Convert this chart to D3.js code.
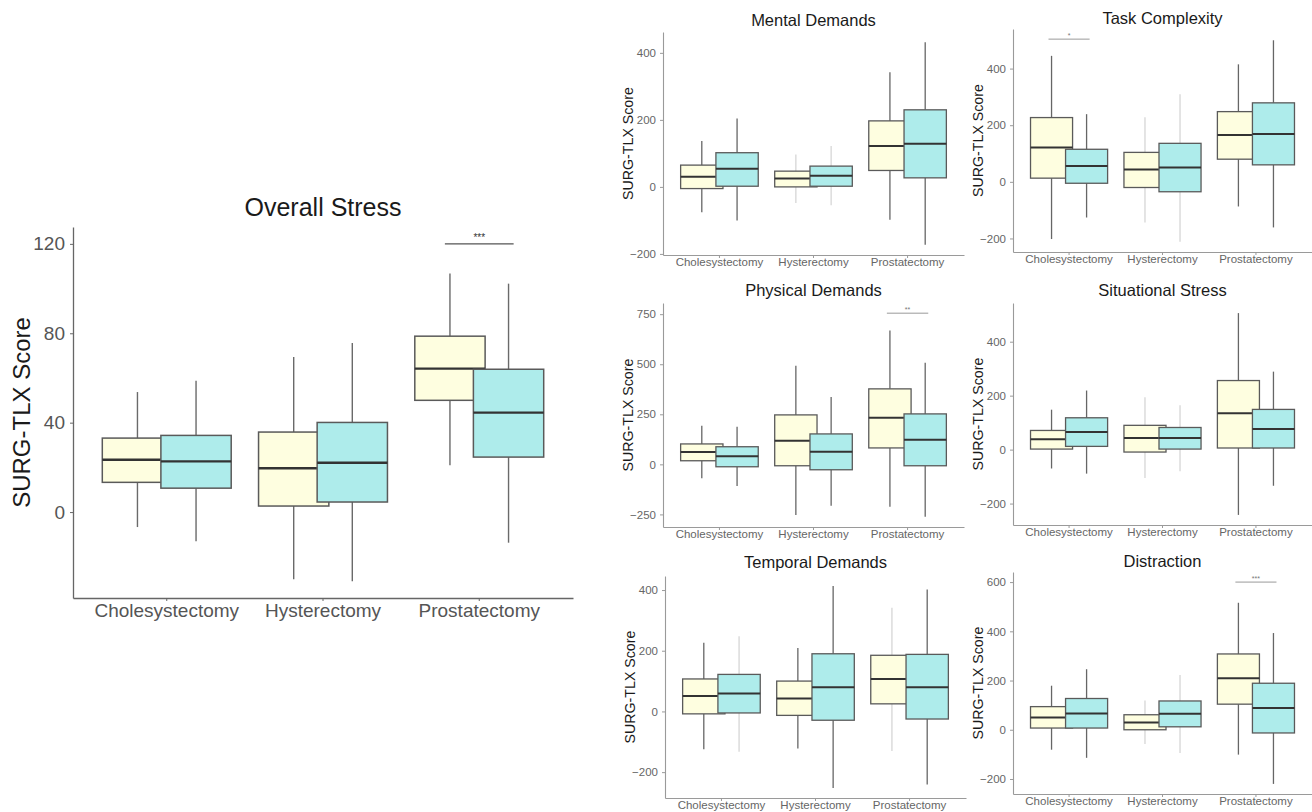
<!DOCTYPE html>
<html><head><meta charset="utf-8">
<script src="https://cdn.jsdelivr.net/npm/d3@7"></script>
<style>
html,body{margin:0;padding:0;background:#fff;overflow:hidden;}
svg{display:block;font-family:"Liberation Sans",Arial,Helvetica,sans-serif;}
</style>
</head><body>
<svg id="chart" width="1312" height="812"></svg>
<script>
// ---------------- DATA ----------------
const categories = ["Cholesystectomy", "Hysterectomy", "Prostatectomy"];
const groups = ["group1", "group2"];
const yLabel = "SURG-TLX Score";

// box stats per category: [lower whisker, Q1, median, Q3, upper whisker]
const overallTitle = "Overall Stress";
const overallG1 = [[-6.7, 13.3, 23.4, 33.1, 53.7], [-30.1, 2.7, 19.6, 35.8, 69.4], [20.9, 50, 64.2, 78.7, 106.7]];
const overallG2 = [[-13, 10.7, 22.7, 34.3, 58.7], [-30.9, 4.5, 22.1, 40.1, 75.7], [-13.7, 24.6, 44.5, 63.9, 102.2]];
const overallTicks = [0, 40, 80, 120];
const overallSig = {category: "Prostatectomy", value: 120, label: "***"};

const mentalTitle = "Mental Demands";
const mentalG1 = [[-76, -5, 30, 65, 137], [-48, 0, 25, 47, 97], [-98, 49, 122, 197, 342]];
const mentalG2 = [[-100, 2, 54, 102, 204], [-55, 2, 33, 62, 122], [-173, 27, 129, 230, 432]];
const mentalTicks = [-200, 0, 200, 400];

const taskTitle = "Task Complexity";
const taskG1 = [[-202, 13, 121, 227, 445], [-144, -20, 44, 104, 228], [-87, 80, 165, 248, 415]];
const taskG2 = [[-126, -5, 56, 115, 239], [-212, -35, 51, 136, 309], [-161, 60, 169, 279, 500]];
const taskTicks = [-200, 0, 200, 400];
const taskSig = {category: "Cholesystectomy", value: 504, label: "*"};

const physicalTitle = "Physical Demands";
const physicalG1 = [[-70, 18, 62, 102, 193], [-253, -7, 118, 247, 493], [-212, 82, 233, 377, 668]];
const physicalG2 = [[-108, -12, 40, 88, 188], [-207, -27, 63, 152, 337], [-262, -7, 123, 252, 508]];
const physicalTicks = [-250, 0, 250, 500, 750];
const physicalSig = {category: "Prostatectomy", value: 755, label: "**"};

const situationalTitle = "Situational Stress";
const situationalG1 = [[-70, 2, 38, 71, 148], [-105, -9, 43, 90, 194], [-242, 6, 135, 256, 506]];
const situationalG2 = [[-89, 12, 65, 118, 219], [-80, 2, 43, 82, 164], [-134, 6, 76, 149, 289]];
const situationalTicks = [-200, 0, 200, 400];

const temporalTitle = "Temporal Demands";
const temporalG1 = [[-125, -8, 51, 107, 226], [-122, -13, 43, 100, 209], [-130, 25, 107, 185, 342]];
const temporalG2 = [[-133, -5, 59, 122, 248], [-252, -29, 80, 190, 413], [-241, -25, 80, 188, 402]];
const temporalTicks = [-200, 0, 200, 400];

const distractionTitle = "Distraction";
const distractionG1 = [[-81, 7, 50, 94, 179], [-58, 0, 30, 61, 119], [-101, 104, 209, 308, 516]];
const distractionG2 = [[-114, 7, 66, 127, 246], [-94, 12, 65, 117, 222], [-220, -13, 88, 189, 393]];
const distractionTicks = [-200, 0, 200, 400, 600];
const distractionSig = {category: "Prostatectomy", value: 600, label: "***"};

// ---------------- LAYOUT / STYLE ----------------
const fills = ["#FEFEE0", "#AEECEB"];
const svg = d3.select("#chart");

const panels = [
  {title: overallTitle, g1: overallG1, g2: overallG2, ticks: overallTicks, sig: overallSig,
   x0: 73, x1: 573, y0: 227, y1: 598, big: true, titleY: 216, labelX: 30, faint: []},
  {title: mentalTitle, g1: mentalG1, g2: mentalG2, ticks: mentalTicks, sig: null,
   x0: 663, x1: 964, y0: 32, y1: 255, titleY: 26, faint: [[1, 0], [1, 1]]},
  {title: taskTitle, g1: taskG1, g2: taskG2, ticks: taskTicks, sig: taskSig,
   x0: 1013, x1: 1312, y0: 29, y1: 252, titleY: 24, faint: [[1, 0], [1, 1]]},
  {title: physicalTitle, g1: physicalG1, g2: physicalG2, ticks: physicalTicks, sig: physicalSig,
   x0: 663, x1: 964, y0: 303, y1: 527, titleY: 296, faint: []},
  {title: situationalTitle, g1: situationalG1, g2: situationalG2, ticks: situationalTicks, sig: null,
   x0: 1013, x1: 1312, y0: 303, y1: 525, titleY: 296, faint: [[1, 0], [1, 1]]},
  {title: temporalTitle, g1: temporalG1, g2: temporalG2, ticks: temporalTicks, sig: null,
   x0: 665, x1: 966, y0: 576, y1: 798, titleY: 568, faint: [[0, 1], [2, 0]]},
  {title: distractionTitle, g1: distractionG1, g2: distractionG2, ticks: distractionTicks, sig: distractionSig,
   x0: 1013, x1: 1312, y0: 572, y1: 794, titleY: 567, faint: [[1, 0], [1, 1]]}
];

panels.forEach(p => {
  const big = !!p.big;
  const g = svg.append("g");
  const all = p.g1.concat(p.g2).flat();
  let lo = d3.min(all), hi = d3.max(all);
  if (p.sig) hi = Math.max(hi, p.sig.value);
  const span = hi - lo;
  const y = d3.scaleLinear().domain([lo - 0.05 * span, hi + 0.05 * span]).range([p.y1, p.y0]);
  const x = d3.scaleBand().domain(categories).range([p.x0, p.x1]).paddingInner(0).paddingOuter(0.1);
  const step = x.step();
  const off = d3.scalePoint().domain(groups).range([-0.1875, 0.1875]);
  const bw = 0.45 * step;
  const cx = c => x(c) + x.bandwidth() / 2;

  // title
  g.append("text").attr("x", (p.x0 + p.x1) / 2).attr("y", p.titleY)
    .attr("text-anchor", "middle").attr("fill", "#1a1a1a")
    .style("font-size", big ? "25px" : "16.5px").text(p.title);

  // y axis label
  const lx = big ? p.labelX : p.x0 - 30;
  g.append("text").attr("transform", `translate(${lx},${(p.y0 + p.y1) / 2}) rotate(-90)`)
    .attr("text-anchor", "middle").attr("fill", "#1a1a1a")
    .style("font-size", big ? "24px" : "14.2px").text(yLabel);

  // axes
  const axColor = big ? "#666" : "#9a9a9a";
  const yAx = g.append("g").attr("transform", `translate(${p.x0},0)`)
    .call(d3.axisLeft(y).tickValues(p.ticks).tickSize(3).tickSizeOuter(0).tickPadding(big ? 5 : 4));
  const xAx = g.append("g").attr("transform", `translate(0,${p.y1})`)
    .call(d3.axisBottom(x).tickSize(3).tickSizeOuter(0).tickPadding(big ? 3 : 0));
  [yAx, xAx].forEach(a => {
    a.select(".domain").attr("stroke", axColor).attr("stroke-width", big ? 1.3 : 1.1);
    a.selectAll(".tick line").attr("stroke", axColor);
    a.selectAll(".tick text").attr("fill", big ? "#555" : "#666")
      .style("font-size", big ? "19px" : "11.5px").style("font-family", "inherit");
  });

  // boxes
  categories.forEach((c, ci) => {
    [p.g1, p.g2].forEach((series, gi) => {
      const s = series[ci];
      const xc = cx(c) + off(groups[gi]) * step;
      const isFaint = p.faint.some(f => f[0] === ci && f[1] === gi);
      const wCol = isFaint ? "#d6d6d6" : (big ? "#6a6a6a" : "#666");
      const bg = g.append("g");
      bg.append("line").attr("x1", xc).attr("x2", xc).attr("y1", y(s[0])).attr("y2", y(s[1]))
        .attr("stroke", wCol).attr("stroke-width", big ? 1.4 : 1.3);
      bg.append("line").attr("x1", xc).attr("x2", xc).attr("y1", y(s[3])).attr("y2", y(s[4]))
        .attr("stroke", wCol).attr("stroke-width", big ? 1.4 : 1.3);
      bg.append("rect").attr("x", xc - bw / 2).attr("width", bw)
        .attr("y", y(s[3])).attr("height", y(s[1]) - y(s[3]))
        .attr("fill", fills[gi]).attr("stroke", "#5a5a5a").attr("stroke-width", big ? 1.5 : 1.3);
      bg.append("line").attr("x1", xc - bw / 2).attr("x2", xc + bw / 2)
        .attr("y1", y(s[2])).attr("y2", y(s[2]))
        .attr("stroke", "#333").attr("stroke-width", big ? 2.4 : 2);
    });
  });

  // significance bracket
  if (p.sig) {
    const xc = cx(p.sig.category);
    const yy = y(p.sig.value);
    g.append("line").attr("x1", xc - 0.22 * step).attr("x2", xc + 0.22 * step)
      .attr("y1", yy).attr("y2", yy).attr("stroke", big ? "#555" : "#999").attr("stroke-width", big ? 1.3 : 1);
    g.append("text").attr("x", xc).attr("y", big ? yy - 3 : yy - 1)
      .attr("text-anchor", "middle").attr("fill", big ? "#333" : "#777")
      .style("font-size", big ? "10px" : "7px").text(p.sig.label);
  }
});
</script>
</body></html>
